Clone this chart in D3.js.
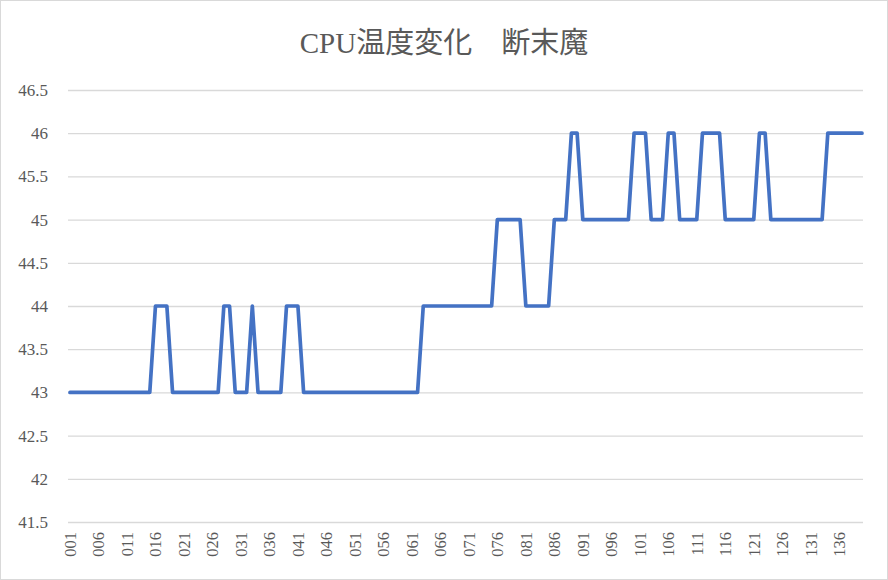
<!DOCTYPE html>
<html lang="ja">
<head>
<meta charset="UTF-8" />
<title>CPU温度変化　断末魔</title>
<script src="https://cdn.jsdelivr.net/npm/d3@7"></script>
<style>
  body { margin: 0; background: #fff; }
  svg { display: block; }
  .grid line { stroke: #d9d9d9; stroke-width: 1.3; }
  .tick text { fill: #595959; }
</style>
</head>
<body>
<svg id="chart"></svg>
<script>
// data: one reading per sample 001..140
const title = "CPU温度変化　断末魔";
const categories = [
  "001","002","003","004","005","006","007","008","009","010",
  "011","012","013","014","015","016","017","018","019","020",
  "021","022","023","024","025","026","027","028","029","030",
  "031","032","033","034","035","036","037","038","039","040",
  "041","042","043","044","045","046","047","048","049","050",
  "051","052","053","054","055","056","057","058","059","060",
  "061","062","063","064","065","066","067","068","069","070",
  "071","072","073","074","075","076","077","078","079","080",
  "081","082","083","084","085","086","087","088","089","090",
  "091","092","093","094","095","096","097","098","099","100",
  "101","102","103","104","105","106","107","108","109","110",
  "111","112","113","114","115","116","117","118","119","120",
  "121","122","123","124","125","126","127","128","129","130",
  "131","132","133","134","135","136","137","138","139","140"
];
const temps = [
  43,43,43,43,43,43,43,43,43,43,
  43,43,43,43,43,44,44,44,43,43,
  43,43,43,43,43,43,43,44,44,43,
  43,43,44,43,43,43,43,43,44,44,
  44,43,43,43,43,43,43,43,43,43,
  43,43,43,43,43,43,43,43,43,43,
  43,43,44,44,44,44,44,44,44,44,
  44,44,44,44,44,45,45,45,45,45,
  44,44,44,44,44,45,45,45,46,46,
  45,45,45,45,45,45,45,45,45,46,
  46,46,45,45,45,46,46,45,45,45,
  45,46,46,46,46,45,45,45,45,45,
  45,46,46,45,45,45,45,45,45,45,
  45,45,45,46,46,46,46,46,46,46
];
const xTickLabels = ["001","006","011","016","021","026","031","036","041","046",
  "051","056","061","066","071","076","081","086","091","096",
  "101","106","111","116","121","126","131","136"];
const yTicks = [41.5, 42, 42.5, 43, 43.5, 44, 44.5, 45, 45.5, 46, 46.5];

const width = 888, height = 580;
const margin = { left: 68, right: 863, top: 90, bottom: 522 };
const fontFamily = '"Liberation Serif", "Noto Sans CJK JP", serif';

const svg = d3.select('#chart')
    .attr('width', width)
    .attr('height', height)
    .style('font-family', fontFamily);

// chart area border
svg.append('rect')
    .attr('x', 0.5).attr('y', 0.5)
    .attr('width', width - 1).attr('height', height - 1)
    .attr('fill', '#fff')
    .attr('stroke', '#d9d9d9');

svg.append('text')
    .attr('x', width / 2)
    .attr('y', 53)
    .attr('text-anchor', 'middle')
    .attr('fill', '#595959')
    .style('font-size', '29px')
    .text(title);

const x = d3.scalePoint()
    .domain(categories)
    .range([margin.left + 2, margin.right - 1]);

const y = d3.scaleLinear()
    .domain([41.5, 46.5])
    .range([margin.bottom, margin.top]);

// y axis doubles as gridlines
const yAxis = svg.append('g')
    .attr('class', 'grid')
    .attr('transform', `translate(${margin.left},0)`)
    .call(d3.axisLeft(y)
        .tickValues(yTicks)
        .tickSize(-(margin.right - margin.left))
        .tickPadding(20)
        .tickFormat(d => String(d)))
    .attr('font-family', fontFamily);
yAxis.select('.domain').remove();
yAxis.selectAll('text').style('font-size', '17px');

const xAxis = svg.append('g')
    .attr('transform', `translate(0,${margin.bottom})`)
    .call(d3.axisBottom(x).tickValues(xTickLabels).tickSize(0))
    .attr('font-family', fontFamily);
xAxis.select('.domain').remove();
xAxis.selectAll('text')
    .style('font-size', '16.5px')
    .attr('text-anchor', 'end')
    .attr('transform', 'rotate(-90)')
    .attr('x', -10)
    .attr('y', 0)
    .attr('dy', '0.33em');

const line = d3.line()
    .x((d, i) => x(categories[i]))
    .y(d => y(d));

svg.append('path')
    .datum(temps)
    .attr('fill', 'none')
    .attr('stroke', '#4472c4')
    .attr('stroke-width', 3.7)
    .attr('stroke-linejoin', 'round')
    .attr('stroke-linecap', 'round')
    .attr('d', line);
</script>
</body>
</html>
